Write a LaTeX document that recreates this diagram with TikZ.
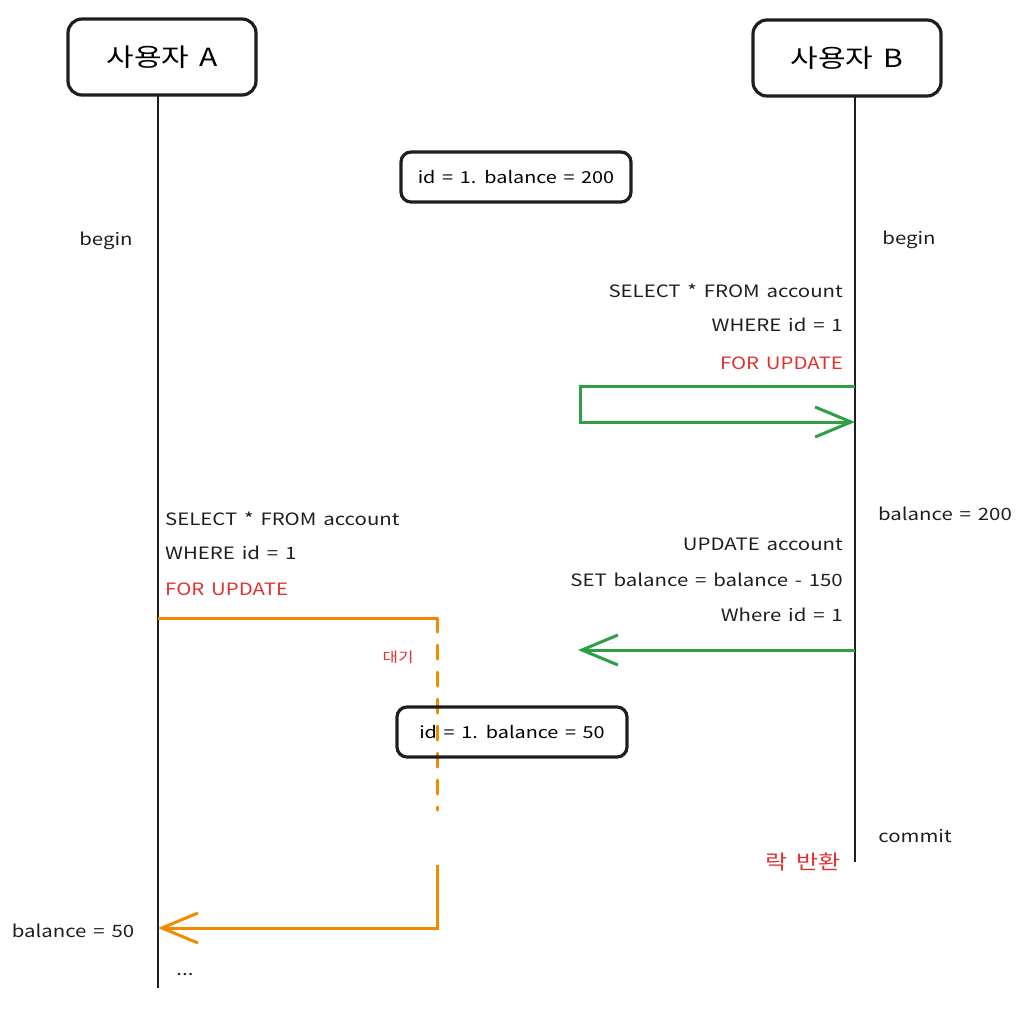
\documentclass[tikz,border=0pt]{standalone}
\usepackage{fontspec}
\setmainfont{Noto Sans CJK KR}[FakeStretch=1.2, WordSpace=1.5]
\usetikzlibrary{arrows.meta}

\definecolor{inkblack}{HTML}{1E1E1E}
\definecolor{lockgreen}{HTML}{2F9E44}
\definecolor{waitorange}{HTML}{F08C00}
\definecolor{notered}{HTML}{E03131}

\tikzset{
  actor/.style={draw=inkblack, line width=3.2pt, rounded corners=14pt,
    minimum width=188pt, minimum height=76pt, font=\fontsize{25}{29}\selectfont},
  state/.style={draw=inkblack, line width=3.2pt, rounded corners=10pt,
    minimum width=230pt, minimum height=50pt, font=\fontsize{16.5}{20}\selectfont},
  lbl/.style={text=inkblack, inner sep=0pt, font=\fontsize{17}{20}\selectfont},
  redlbl/.style={lbl, text=notered},
  lifeline/.style={draw=inkblack, line width=1.5pt},
  greenline/.style={draw=lockgreen, line width=3pt},
  orangeline/.style={draw=waitorange, line width=3pt},
  barb/.style={-{Straight Barb[length=36pt, width=30pt, line width=3pt]}}
}

\begin{document}
\begin{tikzpicture}[x=1pt, y=-1pt]
  \useasboundingbox (0,0) rectangle (1024,1010);

  % actors and lifelines
  \node[actor] (userA) at (162,57) {사용자 A};
  \node[actor] (userB) at (847,58) {사용자 B};
  \coordinate (topA) at (158,95);
  \coordinate (endA) at (158,988);
  \coordinate (topB) at (855,96);
  \coordinate (endB) at (855,862);
  \draw[lifeline] (topA) -- (endA);
  \draw[lifeline] (topB) -- (endB);

  \node[state] (initial) at (516,177) {id = 1. balance = 200};

  \node[lbl] (beginA) at (106,241) {begin};
  \node[lbl] (beginB) at (909,240) {begin};

  % B locks the row
  \node[lbl, anchor=east] (selB) at (843,291) {SELECT * FROM account};
  \node[lbl, anchor=east] (whereB) at (843,325) {WHERE id = 1};
  \node[redlbl, anchor=east] (forB) at (843,363) {FOR UPDATE};
  \coordinate (lockOut) at (855,386);
  \coordinate (lockIn) at (855,422);
  \draw[greenline, barb] (lockOut) -- (580,386) -- (580,422) -- (lockIn);

  \node[lbl] (readB) at (945,514) {balance = 200};

  % A waits
  \node[lbl, anchor=west] (selA) at (165,519) {SELECT * FROM account};
  \node[lbl, anchor=west] (whereA) at (165,553) {WHERE id = 1};
  \node[redlbl, anchor=west] (forA) at (165,589) {FOR UPDATE};
  \coordinate (waitStart) at (158,618);
  \coordinate (waitTop) at (437,618);
  \coordinate (waitEnd) at (437,810);
  \draw[orangeline] (waitStart) -- (waitTop);
  \draw[orangeline, line cap=round, dash pattern=on 14pt off 13pt] (waitTop) -- (waitEnd);
  \node[redlbl, font=\fontsize{14}{16}\selectfont] (wait) at (398,657) {대기};

  % B updates
  \node[lbl, anchor=east] (updB) at (843,544) {UPDATE account};
  \node[lbl, anchor=east] (setB) at (843,580) {SET balance = balance - 150};
  \node[lbl, anchor=east] (where2B) at (843,615) {Where id = 1};
  \coordinate (updOut) at (855,650);
  \coordinate (updIn) at (578,650);
  \draw[greenline, barb] (updOut) -- (updIn);

  \node[state] (updated) at (512,732) {id = 1. balance = 50};

  \node[lbl] (commitB) at (915,836) {commit};
  \node[redlbl, font=\fontsize{20}{24}\selectfont] (release) at (803,862) {락 반환};

  % A gets the row
  \coordinate (resume) at (437,865);
  \coordinate (resumeEnd) at (437,928);
  \coordinate (gotA) at (158,928);
  \draw[orangeline, barb] (resume) -- (resumeEnd) -- (gotA);
  \node[lbl] (readA) at (73,931) {balance = 50};
  \node[lbl] (moreA) at (185,975) {...};
\end{tikzpicture}
\end{document}
